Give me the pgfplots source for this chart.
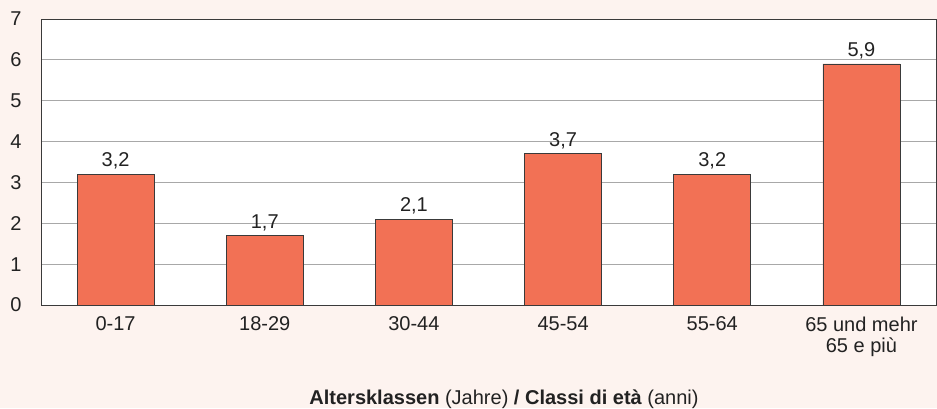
\documentclass[border=0pt]{standalone}
\usepackage{fontspec}
\setmainfont{Liberation Sans}
\usepackage{pgfplots}
\pgfplotsset{compat=1.18}
\definecolor{bg}{HTML}{FDF3EF}
\definecolor{barc}{HTML}{F27155}
\definecolor{edgec}{HTML}{3A3A3A}
\definecolor{gridc}{HTML}{A8A8A8}
\definecolor{textc}{HTML}{222222}
\begin{document}
\begin{tikzpicture}[x=1bp,y=1bp]
\fill[bg] (0,0) rectangle (937,408);
\useasboundingbox (0,0) rectangle (937,408);
\begin{axis}[
  at={(41bp,103bp)}, anchor=south west,
  scale only axis, width=895bp, height=286bp,
  xmin=-0.5, xmax=5.5, ymin=0, ymax=7,
  ytick={0,1,2,3,4,5,6,7},
  xtick=data,
  xticklabels={0-17,18-29,30-44,45-54,55-64,{65 und mehr\\65 e più}},
  tick label style={font=\fontsize{20bp}{21bp}\selectfont, text=textc},
  xticklabel style={align=center, anchor=north, yshift=-8bp},
  yticklabel style={anchor=east, xshift=-16bp},
  major tick length=0pt,
  ymajorgrids, grid style={gridc, line width=0.8bp},
  axis line style={edgec, line width=0.8bp},
  axis background/.style={fill=white},
  /pgf/number format/assume math mode=true,
  ybar, bar width=77bp,
  nodes near coords,
  nodes near coords style={font=\fontsize{20bp}{21bp}\selectfont, text=textc, yshift=1bp, /pgf/number format/.cd, use comma, fixed, fixed zerofill, precision=1, assume math mode=true},
]
\addplot[fill=barc, draw=edgec, line width=0.8bp] coordinates {(0,3.2) (1,1.7) (2,2.1) (3,3.7) (4,3.2) (5,5.9)};
\end{axis}
\node[font=\fontsize{20bp}{21bp}\selectfont, text=textc] at (504,9) {\textbf{Altersklassen} (Jahre) \textbf{/ Classi di età} (anni)};
\end{tikzpicture}
\end{document}
